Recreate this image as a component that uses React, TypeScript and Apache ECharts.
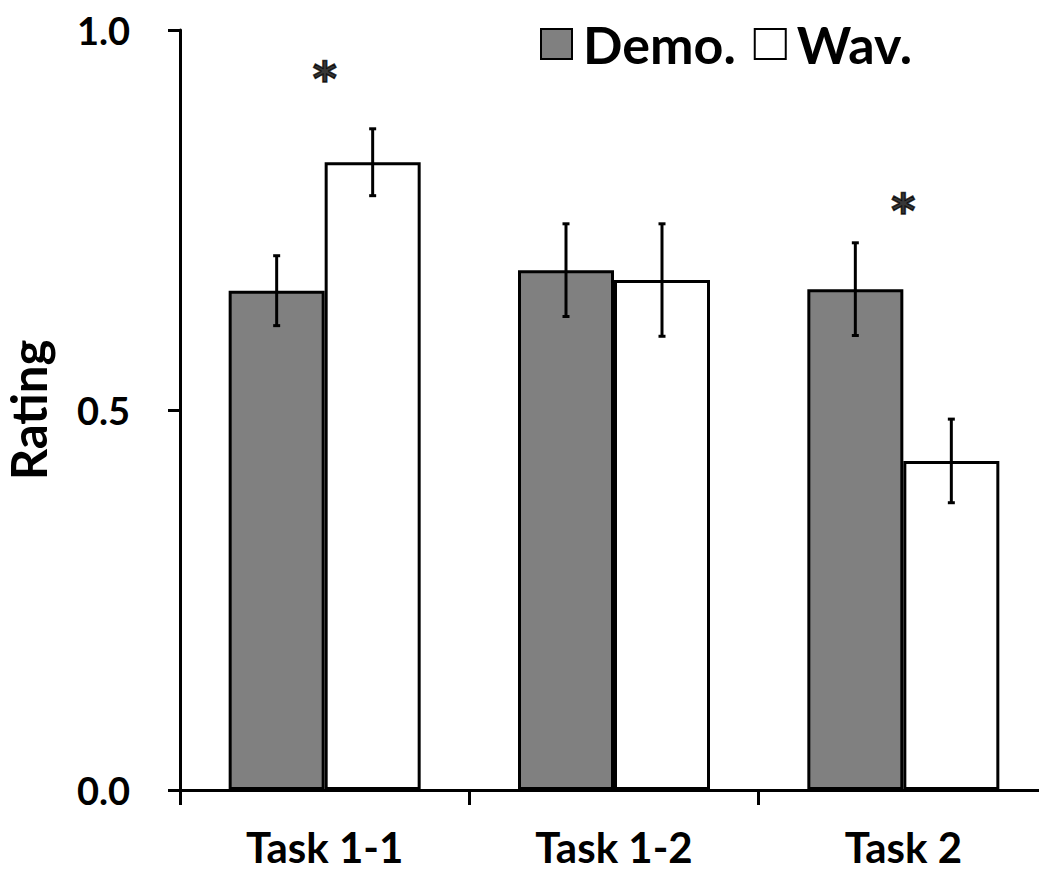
import React, { useEffect, useRef } from "react";
import * as echarts from "echarts";

const categories = ["Task 1-1", "Task 1-2", "Task 2"];
const demoValues = [0.657, 0.684, 0.659];
const demoErrors = [0.046, 0.061, 0.061];
const wavValues = [0.826, 0.671, 0.433];
const wavErrors = [0.044, 0.074, 0.055];
const yTicks = [0, 0.5, 1.0];
const sigCategories = ["Task 1-1", "Task 2"];
const sigValues = [0.935, 0.762];

const FONT = "Lato";
const BAR_W = 96;

export default function App() {
  const ref = useRef<HTMLDivElement>(null);
  useEffect(() => {
    if (!ref.current) return;
    const chart = echarts.init(ref.current, null, { renderer: "svg" });

    const errSeries = (name: string, vals: number[], errs: number[], sign: number) => ({
      type: "custom",
      name: name + "_err",
      z: 5,
      data: vals.map((v, i) => [i, v - errs[i], v + errs[i]]),
      renderItem: (params: any, api: any) => {
        const x = api.value(0);
        const lo = api.coord([x, api.value(1)]);
        const hi = api.coord([x, api.value(2)]);
        const cx = lo[0] + (sign * BAR_W) / 2;
        const style = { stroke: "#000", lineWidth: 3 };
        return {
          type: "group",
          children: [
            { type: "line", shape: { x1: cx, y1: lo[1], x2: cx, y2: hi[1] }, style },
            { type: "line", shape: { x1: cx - 3.5, y1: lo[1], x2: cx + 3.5, y2: lo[1] }, style },
            { type: "line", shape: { x1: cx - 3.5, y1: hi[1], x2: cx + 3.5, y2: hi[1] }, style },
          ],
        };
      },
      silent: true,
    });

    chart.setOption({
      animation: false,
      backgroundColor: "#fff",
      grid: {
        left: 180,
        top: 30,
        right: -9,
        bottom: 84,
        containLabel: false,
        outerBoundsMode: "none",
      },
      legend: {
        left: 535,
        top: 13,
        itemWidth: 31,
        itemHeight: 30,
        itemGap: 18,
        icon: "rect",
        data: ["Demo.", "Wav."],
        textStyle: {
          fontFamily: FONT,
          fontWeight: "bold",
          fontSize: 52,
          color: "#000",
          padding: [0, 0, 0, 6],
        },
      },
      xAxis: {
        type: "category",
        data: categories,
        axisLine: { lineStyle: { color: "#000", width: 3 } },
        axisTick: { show: true, length: 15, lineStyle: { color: "#000", width: 3 } },
        axisLabel: {
          margin: 36,
          fontFamily: FONT,
          fontWeight: "bold",
          fontSize: 42,
          lineHeight: 42,
          color: "#000",
        },
      },
      yAxis: {
        type: "value",
        min: 0,
        max: 1,
        interval: 0.5,
        name: "Rating",
        nameLocation: "middle",
        nameGap: 128,
        nameRotate: 90,
        nameTextStyle: { fontFamily: FONT, fontWeight: "bold", fontSize: 49, color: "#000" },
        splitLine: { show: false },
        axisLine: { show: true, lineStyle: { color: "#000", width: 3 } },
        axisTick: { show: true, length: 12, lineStyle: { color: "#000", width: 3 } },
        axisLabel: {
          margin: 50,
          fontFamily: FONT,
          fontWeight: "bold",
          fontSize: 38,
          color: "#000",
          formatter: (v: number) => (yTicks.includes(v) ? v.toFixed(1) : ""),
        },
      },
      series: [
        {
          type: "bar",
          name: "Demo.",
          data: demoValues,
          barWidth: BAR_W,
          barGap: "0%",
          itemStyle: { color: "#808080", borderColor: "#000", borderWidth: 3 },
        },
        {
          type: "bar",
          name: "Wav.",
          data: wavValues,
          barWidth: BAR_W,
          barGap: "0%",
          itemStyle: { color: "#ffffff", borderColor: "#000", borderWidth: 3 },
        },
        errSeries("Demo.", demoValues, demoErrors, -1),
        errSeries("Wav.", wavValues, wavErrors, 1),
        {
          type: "scatter",
          name: "sig",
          symbolSize: 0,
          z: 6,
          data: sigCategories.map((c, i) => [c, sigValues[i]]),
          label: {
            show: true,
            position: "inside",
            formatter: "*",
            fontFamily: "DejaVu Sans",
            fontWeight: "bold",
            fontSize: 46,
            color: "#000",
            textBorderColor: "#000",
            textBorderWidth: 1.5,
          },
          silent: true,
        },
      ],
    });
    return () => chart.dispose();
  }, []);
  return (
    <div
      ref={ref}
      style={{ position: "absolute", left: 0, top: 0, width: 1039, height: 874, background: "#fff" }}
    />
  );
}
